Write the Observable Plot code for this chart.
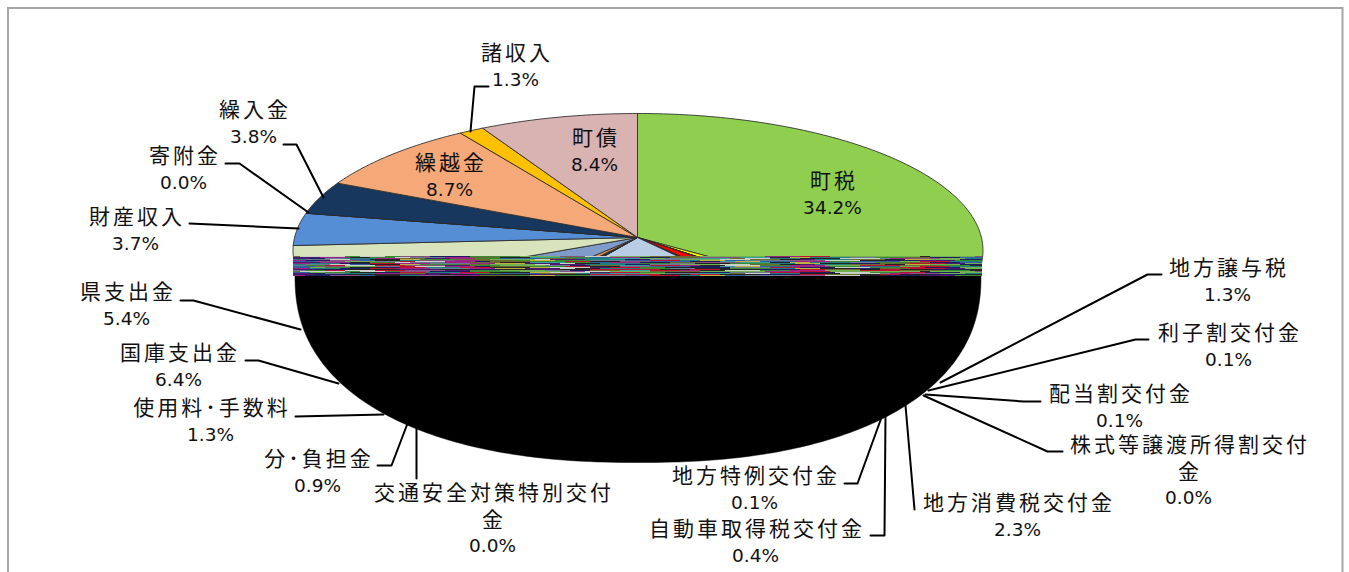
<!DOCTYPE html>
<html lang="ja">
<head>
<meta charset="utf-8">
<script src="https://cdn.jsdelivr.net/npm/d3@7"></script>
<script src="https://cdn.jsdelivr.net/npm/@observablehq/plot@0.6"></script>
<style>
  html, body { margin: 0; padding: 0; background: #fff; overflow: hidden; }
  svg { display: block; }
</style>
</head>
<body>
<script>
// Revenue sources in clockwise order from twelve o'clock; shares are percentages.
const sliceNames = [
  "町税", "地方譲与税", "利子割交付金", "配当割交付金", "株式等譲渡所得割交付\n金",
  "地方消費税交付金", "自動車取得税交付金", "地方特例交付金", "地方交付税",
  "交通安全対策特別交付\n金", "分･負担金", "使用料･手数料", "国庫支出金", "県支出金",
  "財産収入", "寄附金", "繰入金", "繰越金", "諸収入", "町債"
];
const sliceShares = [
  34.2, 1.3, 0.1, 0.1, 0.0,
  2.3, 0.4, 0.1, 21.6,
  0.0, 0.9, 1.3, 6.4, 5.4,
  3.7, 0.0, 3.8, 8.7, 1.3, 8.4
];
const sliceColors = [
  "#8fce4f", "#ffff00", "#4f6228", "#7030a0", "#00b050",
  "#ff0000", "#5a2d0c", "#31859c", "#b9cde5",
  "#604a7b", "#1f3a4d", "#e6934f", "#7f9bc9", "#d7e4bc",
  "#558ed5", "#953735", "#17375e", "#f5a878", "#ffc000", "#d9b2b2"
];
// The large 地方交付税 wedge carries no label.
const unlabelled = ["地方交付税"];

// Label placement: centre of the name's first line, line pitch follows from lineStep.
const labelX = {
  "町税": 832, "地方譲与税": 1227, "利子割交付金": 1228, "配当割交付金": 1119,
  "株式等譲渡所得割交付\n金": 1188, "地方消費税交付金": 1017, "自動車取得税交付金": 755,
  "地方特例交付金": 754, "交通安全対策特別交付\n金": 492, "分･負担金": 317,
  "使用料･手数料": 210, "国庫支出金": 178, "県支出金": 126, "財産収入": 135,
  "寄附金": 183, "繰入金": 253, "繰越金": 449, "諸収入": 515, "町債": 594
};
const labelY = {
  "町税": 181, "地方譲与税": 268, "利子割交付金": 333, "配当割交付金": 394,
  "株式等譲渡所得割交付\n金": 445, "地方消費税交付金": 503, "自動車取得税交付金": 529,
  "地方特例交付金": 476, "交通安全対策特別交付\n金": 493, "分･負担金": 459,
  "使用料･手数料": 408, "国庫支出金": 353, "県支出金": 292, "財産収入": 217,
  "寄附金": 156, "繰入金": 110, "繰越金": 163, "諸収入": 53, "町債": 138
};
const lineStep = 26.5;

// Leader lines from each outside label to the pie.
const leaderPaths = [
  [[1161,274],[1147,274],[940,382]],
  [[1148,339],[1135,339],[928,390]],
  [[1040,401],[1023,401],[925,394]],
  [[1062,451],[1047,451],[923,395]],
  [[914,509],[905,405]],
  [[870,535],[884,535],[885,415]],
  [[844,483],[857,483],[881,417]],
  [[416,478],[416,426]],
  [[377,465],[391,465],[407,423]],
  [[295,416],[383,414]],
  [[245,360],[258,360],[338,383]],
  [[180,300],[193,300],[300,329]],
  [[189,223],[298,228]],
  [[225,163],[239,163],[308,212]],
  [[283,144],[296,144],[323,197]],
  [[488,86],[474,86],[470,131]]
];

// Streaked band along the pie's rim: one row per two pixels, each run is colour letter + start x.
const streakColors = {
  p: "#4b1a6e", m: "#a0208a", r: "#c01030", g: "#3a8a30", t: "#1f7f80",
  b: "#3060a0", o: "#6b6b30", n: "#1c1c60", k: "#222222", s: "#6a7a90",
  w: "#c8d0c8", e: "#70b050", y: "#c0b040", h: "#8a5080", c: "#30a0a0"
};
const streakRows = [
  [256, "o293 w300 g345 w360 g385 h400 n430 g470 e520 h560 w585 e610 o650 e700 m765 r800 e830 k920 e930 h975"],
  [258, "p293 n310 s325 t345 m375 o400 p425 m450 g475 b500 o540 t575 c610 e640 s665 c700 o730 w745 t770 k800 w840 s880 m890 h910 e940 t965"],
  [260, "m293 n305 h330 b360 k375 t400 h420 m455 o480 g515 y530 g555 s590 b625 r650 t680 y700 b725 s745 h790 w825 k860 n885 p920 g955"],
  [262, "p293 m320 k350 g370 w395 s410 m445 o470 k500 c530 g565 b590 m610 n640 o670 h700 c740 k770 y790 t810 s850 g875 o905 n930 b960"],
  [264, "t293 s305 w330 b350 k370 y400 g420 o460 e490 w535 p550 t585 n625 s650 e680 w720 o750 k780 p800 t815 o850 k885 y905 e930 n960"],
  [266, "b293 h315 e345 s375 r400 w415 m445 n475 o490 g530 r565 k590 h620 b650 n690 c720 y735 b760 m795 g830 b860 e900 r920 t950"],
  [268, "m293 t310 n340 r370 m395 s430 m470 y495 p525 w560 k575 t600 g640 s670 k695 g730 t770 y795 k820 n850 o880 r910 p945 e965"],
  [270, "s293 g305 r325 w345 r375 h405 p445 g470 e500 s545 n570 o590 c620 r650 m680 k700 w725 g760 m790 e825 r860 o900 g940 k970"],
  [272, "b293 e310 g325 k350 n380 r400 t425 r460 k490 y530 w550 p590 r610 g640 k665 n700 s730 r770 n800 w835 g870 r900 n925 e960"],
  [274, "p293 n315 k350 p400 k440 n470 k500 p530 k560 r590 r620 k660 r690 k720 n760 r800 o825 k860 r880 k900 n930 k970"]
];
const bandEnd = 982;
function rowRuns(row, y, height) {
  const runs = row.split(" ").map(r => ({color: streakColors[r[0]], x: +r.slice(1)}));
  return runs.map((r, i) => ({
    x1: r.x, x2: i + 1 < runs.length ? runs[i + 1].x : bandEnd,
    y1: y, y2: y + height, color: r.color
  }));
}
// Every second pixel line reuses a neighbouring row's runs so the streaks stay one pixel thin.
const streaks = streakRows.flatMap(([y, row], i) => [
  ...rowRuns(row, y, 1),
  ...rowRuns(streakRows[(i + 3) % streakRows.length][1], y + 1, 1)
]);

// Tilted pie geometry: the rim is an ellipse, the apex sits above its centre (perspective).
const rim = {cx: 637.5, cy: 250, rx: 345, ry: 137};
const apex = {x: 637, y: 237};
const squash = 2.43;
function rimPoint(deg) {
  const t = deg * Math.PI / 180;
  const dx = squash * Math.sin(t), dy = -Math.cos(t);
  const ox = apex.x - rim.cx, oy = apex.y - rim.cy;
  const a = dx * dx / rim.rx ** 2 + dy * dy / rim.ry ** 2;
  const b = 2 * (ox * dx / rim.rx ** 2 + oy * dy / rim.ry ** 2);
  const c = ox * ox / rim.rx ** 2 + oy * oy / rim.ry ** 2 - 1;
  const s = (-b + Math.sqrt(b * b - 4 * a * c)) / (2 * a);
  return {x: apex.x + s * dx, y: apex.y + s * dy};
}
const total = d3.sum(sliceShares);
let running = 0;
const slicePoints = sliceNames.flatMap((name, i) => {
  const start = running / total * 360;
  running += sliceShares[i];
  const end = running / total * 360;
  const arc = d3.range(0, 1.0001, 1 / Math.max(1, Math.ceil(end - start)))
    .map(f => rimPoint(start + (end - start) * f));
  return [apex, ...arc, apex].map(p => ({x: p.x, y: p.y, name, color: sliceColors[i]}));
});

// Rounded front wall of the pie, filled solid.
const wall = {cx: 637.5, top: 275, a: 343, b: 187, n: 2.3};
const wallPoints = d3.range(0, 180.5, 1).map(deg => {
  const t = deg * Math.PI / 180;
  const c = Math.cos(t), s = Math.sin(t);
  return {
    x: wall.cx + wall.a * Math.sign(c) * Math.abs(c) ** (2 / wall.n),
    y: wall.top + wall.b * s ** (2 / wall.n)
  };
});

const leaderPoints = leaderPaths.flatMap((path, id) => path.map(([x, y]) => ({x, y, id})));

// One row per name line and one for each percentage beneath it.
const labelled = sliceNames
  .map((name, i) => ({name, share: sliceShares[i]}))
  .filter(d => !unlabelled.includes(d.name));
const nameLines = labelled.flatMap(d =>
  d.name.split("\n").map((text, k) => ({text, x: labelX[d.name], y: labelY[d.name] + k * lineStep}))
);
const percentLines = labelled.map(d => ({
  text: d.share.toFixed(1) + "%",
  x: labelX[d.name],
  y: labelY[d.name] + d.name.split("\n").length * lineStep
}));

const font = '"DejaVu Sans", "Noto Sans CJK JP", sans-serif';
const chart = Plot.plot({
  width: 1349,
  height: 572,
  margin: 0,
  style: {background: "#fff"},
  x: {domain: [0, 1349], range: [0, 1349], axis: null},
  y: {domain: [0, 572], range: [0, 572], axis: null},
  color: {type: "identity"},
  marks: [
    // chart frame, open at the bottom
    Plot.ruleX([7.5, 1342], {y1: 7, y2: 572, stroke: "#a6a6a6", strokeWidth: 2}),
    Plot.ruleY([7.5], {x1: 7, x2: 1343, stroke: "#a6a6a6", strokeWidth: 2}),
    Plot.line(slicePoints, {
      x: "x", y: "y", z: "name", fill: "color",
      stroke: "#2a2a2a", strokeWidth: 1, strokeOpacity: 0.85, strokeLinejoin: "round"
    }),
    Plot.line(wallPoints, {x: "x", y: "y", fill: "#000", stroke: "#000", strokeWidth: 0.5}),
    Plot.rect(streaks, {x1: "x1", x2: "x2", y1: "y1", y2: "y2", fill: "color", inset: 0}),
    Plot.line(leaderPoints, {x: "x", y: "y", z: "id", stroke: "#000", strokeWidth: 2}),
    Plot.text(nameLines, {
      x: "x", y: "y", text: "text", dx: 1.5, fontSize: 21, fontFamily: font, fill: "#111"
    }),
    Plot.text(percentLines, {
      x: "x", y: "y", text: "text", fontSize: 18.5, fontFamily: font, fill: "#111"
    })
  ]
});
document.body.appendChild(chart);

// Revenue names are set wide, percentages at normal spacing.
const nameTexts = new Set(nameLines.map(d => d.text));
d3.select(chart).selectAll("text")
  .filter(function () { return nameTexts.has(this.textContent); })
  .style("letter-spacing", "3px");
</script>
</body>
</html>
